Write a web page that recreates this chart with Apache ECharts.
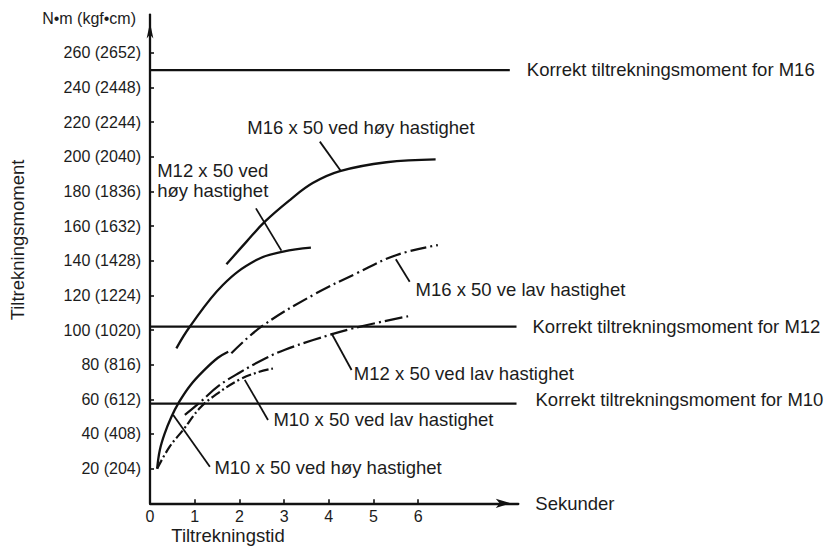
<!DOCTYPE html>
<html>
<head>
<meta charset="utf-8">
<script src="https://cdn.jsdelivr.net/npm/echarts@6/dist/echarts.min.js"></script>
<style>
html,body{margin:0;padding:0;background:#ffffff;}
#c{width:829px;height:548px;}
</style>
</head>
<body>
<div id="c"></div>
<script>
// ---- tick labels ----
const xTickValues = [0, 1, 2, 3, 4, 5, 6];
const xMinorTicks = [1, 2, 3, 4, 5, 6];
const yTickValues = [20, 40, 60, 80, 100, 120, 140, 160, 180, 200, 220, 240, 260];
const yTickKgf = [204, 408, 612, 816, 1020, 1224, 1428, 1632, 1836, 2040, 2244, 2448, 2652];

// ---- curves [seconds, N·m] ----
const m16High = [[1.71,137.9],[2.16,151],[2.57,162.5],[3.13,175.0],[3.64,184.8],[4.25,191.7],[5.29,196.8],[6.39,198.5]];
const m12High = [[0.59,89.4],[0.89,101.9],[1.63,126.0],[2.38,140.4],[2.98,145.2],[3.60,147.5]];
const m16Low  = [[1.82,86.6],[2.49,101.9],[3.65,120.2],[4.62,132.7],[5.52,143.3],[6.44,149.0]];
const m12Low  = [[0.78,51.0],[1.15,59.0],[1.52,67.5],[2.01,75.5],[2.61,84.0],[3.02,88.6],[3.65,94.2],[4.55,101.0],[5.81,108.1]];
const m10High = [[0.16,20],[0.22,30.8],[0.33,40.4],[0.48,50],[0.64,58],[0.9,68],[1.22,77],[1.52,84],[1.75,87.5]];
const m10Low  = [[0.16,20],[0.44,32.7],[0.74,42.3],[1.11,54.8],[1.49,63],[2.01,71.5],[2.4,75.5],[2.75,77.8]];

// ---- correct tightening torque lines ----
const correctValues = [250, 102, 57.5];
const correctEnds = [8.05, 8.2, 8.2];
const correctNames = ['Korrekt tiltrekningsmoment for M16', 'Korrekt tiltrekningsmoment for M12', 'Korrekt tiltrekningsmoment for M10'];

// ---- annotation texts, anchors (left edge, middle) and leader lines ----
const noteTexts = ['M16 x 50 ved høy hastighet', 'M12 x 50 ved\nhøy hastighet', 'M16 x 50 ve lav hastighet',
                   'M12 x 50 ved lav hastighet', 'M10 x 50 ved lav hastighet', 'M10 x 50 ved høy hastighet'];
const noteAnchors = [[2.165,217.1],[0.15,186.0],[5.93,123.1],[4.55,74.9],[2.75,48.4],[1.43,20.9]];
const leaders = [
  [[3.80,208.7],[4.27,191.7]],
  [[2.37,170.2],[2.94,145.8]],
  [[5.81,127.9],[5.50,140.8]],
  [[4.51,76.9],[4.06,98.1]],
  [[2.64,48.1],[2.12,71.2]],
  [[1.34,21.1],[0.52,51.0]]
];

const FONT = "'Liberation Sans', Arial, Helvetica, sans-serif";
const INK = '#111111';
const TXT = '#1c1c1c';

const solid = {color: INK, width: 2.3, type: 'solid'};
const dashDot = (pat) => ({color: INK, width: 2.2, type: pat, cap: 'butt'});

function curve(name, data, ls) {
  return {name: name, type: 'line', data: data, smooth: 0.4, showSymbol: false, symbol: 'none',
          lineStyle: ls, silent: true, z: 3, clip: false};
}

const series = [
  curve('M16 høy', m16High, solid),
  curve('M12 høy', m12High, solid),
  curve('M16 lav', m16Low, dashDot([16, 4, 2, 4])),
  curve('M12 lav', m12Low, dashDot([18, 4, 2, 4])),
  curve('M10 høy', m10High, solid),
  curve('M10 lav', m10Low, dashDot([10, 3, 2, 3]))
];

correctValues.forEach((v, i) => {
  series.push({
    name: correctNames[i], type: 'line', data: [[0, v], [correctEnds[i], v]],
    showSymbol: false, symbol: 'none', silent: true, clip: false,
    lineStyle: {color: INK, width: 2.2},
    endLabel: {show: true, formatter: correctNames[i], distance: 17 + (i === 2 ? 2 : 0) - (i === 1 ? 1 : 0),
               offset: [0, i === 2 ? -4 : (i === 0 ? -1 : 0)],
               color: TXT, fontSize: 18.5, fontFamily: FONT}
  });
});

leaders.forEach((seg) => {
  series.push({type: 'line', data: seg, showSymbol: false, symbol: 'none', silent: true, clip: false,
               lineStyle: {color: INK, width: 1.8}});
});

series.push({
  type: 'scatter', symbolSize: 1, itemStyle: {color: '#ffffff', opacity: 1}, silent: true, clip: false, z: 1,
  data: noteAnchors.map((p, i) => ({value: p, name: noteTexts[i]})),
  label: {show: true, position: 'right', distance: 0, formatter: '{b}', color: TXT, opacity: 1,
          fontSize: 18.5, fontFamily: FONT, lineHeight: 20, align: 'left', verticalAlign: 'middle'}
});

const chart = echarts.init(document.getElementById('c'), null, {renderer: 'svg'});
chart.setOption({
  animation: false,
  backgroundColor: '#ffffff',
  textStyle: {fontFamily: FONT},
  grid: {left: 150, right: 310.7, top: 14.6, bottom: 44.7, containLabel: false, outerBoundsMode: 'none'},
  xAxis: {
    type: 'value', min: 0, max: 8.24,
    name: 'Sekunder', nameLocation: 'end', nameGap: 17,
    nameTextStyle: {color: TXT, fontSize: 18.5, fontFamily: FONT, align: 'left', verticalAlign: 'middle'},
    axisLine: {show: true, onZero: false, symbol: ['none', 'arrow'], symbolSize: [7, 15], symbolOffset: [0, -7.5],
               lineStyle: {color: INK, width: 2.3}},
    axisTick: {show: true, inside: true, length: 4, customValues: xMinorTicks, lineStyle: {color: INK, width: 1.6}},
    axisLabel: {show: true, customValues: xTickValues, margin: 5, color: TXT, fontSize: 16, fontFamily: FONT},
    splitLine: {show: false}
  },
  yAxis: {
    type: 'value', min: 0, max: 282,
    name: 'N•m (kgf•cm)', nameLocation: 'end', nameGap: -3.7,
    nameTextStyle: {color: TXT, fontSize: 16, fontFamily: FONT, align: 'right', verticalAlign: 'middle', padding: [0, 14, 0, 0]},
    axisLine: {show: true, onZero: false, symbol: ['none', 'arrow'], symbolSize: [5, 16], symbolOffset: [0, -8],
               lineStyle: {color: INK, width: 2.3}},
    axisTick: {show: true, inside: true, length: 4, customValues: yTickValues, lineStyle: {color: INK, width: 1.6}},
    axisLabel: {show: true, customValues: yTickValues, margin: 9, color: TXT, fontSize: 16, fontFamily: FONT,
                formatter: (v) => { const k = yTickValues.indexOf(v); return k < 0 ? '' : v + ' (' + yTickKgf[k] + ')'; }},
    splitLine: {show: false}
  },
  graphic: [
    {type: 'text', x: 17, y: 240, rotation: Math.PI / 2, silent: true,
     style: {text: 'Tiltrekningsmoment', fill: TXT, font: '18.5px ' + FONT, textAlign: 'center', textVerticalAlign: 'middle'}},
    {type: 'text', x: 228, y: 535.5, silent: true,
     style: {text: 'Tiltrekningstid', fill: TXT, font: '18.5px ' + FONT, textAlign: 'center', textVerticalAlign: 'middle'}}
  ],
  series: series
});
</script>
</body>
</html>
